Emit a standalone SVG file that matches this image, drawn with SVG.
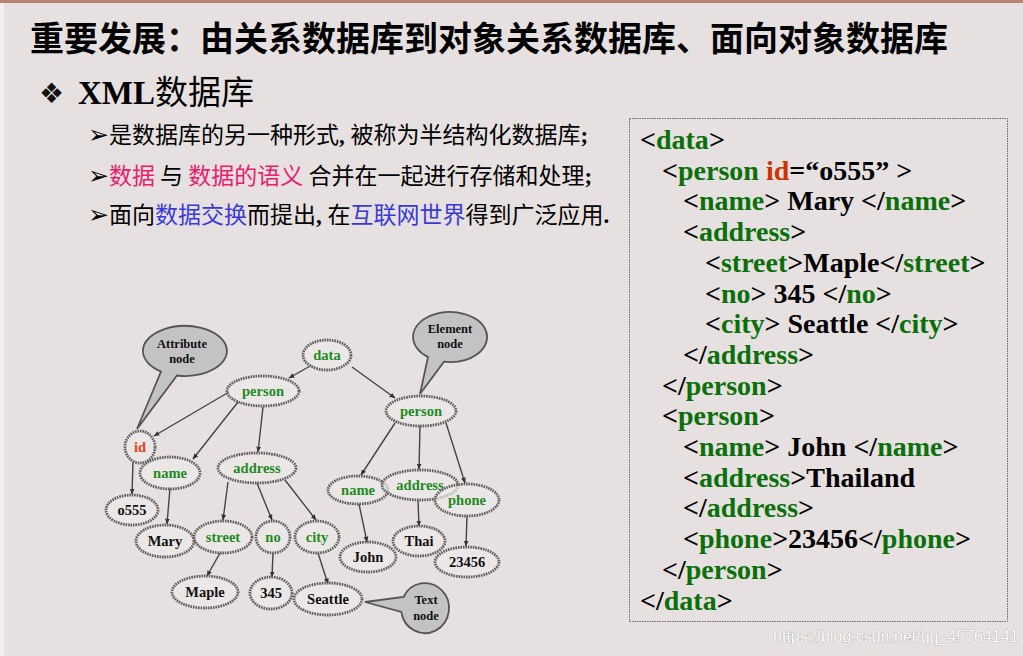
<svg xmlns="http://www.w3.org/2000/svg" width="1023" height="656" viewBox="0 0 1023 656">
<defs>
<style>
.cjk{font-family:"Noto Sans CJK SC","Noto Sans",sans-serif}
.ser{font-family:"Liberation Serif","Times New Roman",serif;font-weight:bold}
.nd ellipse{fill:#eeebeb;fill-opacity:0.65;stroke:#5e5e5e;stroke-width:2.8;stroke-dasharray:1.6 0.9}
.nd text{font-family:"Liberation Serif","Times New Roman",serif;font-weight:bold;font-size:14.5px;text-anchor:middle}
.tag{fill:#1f8a1f}
.val{fill:#111}
.attr{fill:#e8401c}
.edge line{stroke:#444;stroke-width:1.4;marker-end:url(#ah)}
.balloon path{fill:#c3c3c3;stroke:#555;stroke-width:1.8}
.balloon text{font-family:"Liberation Serif","Times New Roman",serif;font-weight:bold;font-size:12.5px;text-anchor:middle;fill:#111}
.xml text{font-family:"Liberation Serif","Times New Roman",serif;font-weight:bold;font-size:28px;fill:#000}
.g{fill:#0b700b}
.r{fill:#cc3300}
.pink{fill:#e8206e}
.blue{fill:#3a3ad8}
.arw{font-family:"DejaVu Sans",sans-serif;font-size:25px;fill:#000}
</style>
<marker id="ah" viewBox="0 0 10 10" refX="9" refY="5" markerWidth="6" markerHeight="6" orient="auto" markerUnits="userSpaceOnUse">
<path d="M0,1 L10,5 L0,9 z" fill="#333"/>
</marker>
</defs>

<!-- background -->
<rect x="0" y="0" width="1023" height="656" fill="#e7e0e0"/>
<rect x="0" y="0" width="1023" height="3" fill="#b98374"/>
<rect x="0" y="3" width="4" height="653" fill="#f3efef"/>

<!-- title -->
<g id="title">
<text x="30" y="51" class="cjk" font-size="34" font-weight="bold" fill="#000">重要发展：由关系数据库到对象关系数据库、面向对象数据库</text>
</g>

<!-- subheading -->
<g id="subheading">
<text x="39" y="103" font-family="DejaVu Sans,sans-serif" font-size="28" fill="#111">❖</text>
<text x="78" y="104" font-size="33"><tspan class="ser">XML</tspan><tspan class="cjk" font-weight="normal">数据库</tspan></text>
</g>

<!-- bullets -->
<g id="bullets" font-size="23">
<text x="88" y="143"><tspan class="arw">➢</tspan><tspan class="cjk" fill="#000">是数据库的另一种形式</tspan><tspan class="ser">, </tspan><tspan class="cjk" fill="#000">被称为半结构化数据库</tspan><tspan class="ser">;</tspan></text>
<text x="88" y="184"><tspan class="arw">➢</tspan><tspan class="cjk pink">数据</tspan><tspan class="cjk" fill="#000"> 与 </tspan><tspan class="cjk pink">数据的语义</tspan><tspan class="cjk" fill="#000"> 合并在一起进行存储和处理</tspan><tspan class="ser">;</tspan></text>
<text x="88" y="223"><tspan class="arw">➢</tspan><tspan class="cjk" fill="#000">面向</tspan><tspan class="cjk blue">数据交换</tspan><tspan class="cjk" fill="#000">而提出</tspan><tspan class="ser">, </tspan><tspan class="cjk" fill="#000">在</tspan><tspan class="cjk blue">互联网世界</tspan><tspan class="cjk" fill="#000">得到广泛应用</tspan><tspan class="ser">.</tspan></text>
</g>

<!-- connectors -->
<g id="connectors" class="edge">
<line x1="312" y1="365" x2="289" y2="378"/>
<line x1="352" y1="367" x2="395" y2="398"/>
<line x1="229" y1="392" x2="154" y2="436"/>
<line x1="238" y1="402" x2="193" y2="459"/>
<line x1="263" y1="407" x2="258" y2="452"/>
<line x1="133" y1="462" x2="132" y2="494"/>
<line x1="170" y1="488" x2="167" y2="524"/>
<line x1="228" y1="482" x2="223" y2="520"/>
<line x1="257" y1="483" x2="272" y2="520"/>
<line x1="285" y1="480" x2="316" y2="520"/>
<line x1="220" y1="553" x2="207" y2="576"/>
<line x1="273" y1="553" x2="272" y2="577"/>
<line x1="318" y1="553" x2="328" y2="584"/>
<line x1="395" y1="423" x2="361" y2="475"/>
<line x1="420" y1="425" x2="419" y2="469"/>
<line x1="446" y1="423" x2="465" y2="483"/>
<line x1="359" y1="504" x2="367" y2="542"/>
<line x1="418" y1="500" x2="419" y2="526"/>
<line x1="467" y1="516" x2="466" y2="546"/>
</g>

<!-- nodes -->
<g id="n-data" class="nd"><ellipse cx="327" cy="355" rx="24" ry="15"/><text x="327" y="360" class="tag">data</text></g>
<g id="n-person1" class="nd"><ellipse cx="263" cy="391" rx="36" ry="15"/><text x="263" y="396" class="tag">person</text></g>
<g id="n-person2" class="nd"><ellipse cx="421" cy="411" rx="35" ry="15"/><text x="421" y="416" class="tag">person</text></g>
<g id="n-id" class="nd"><ellipse cx="140" cy="447" rx="15" ry="16"/><text x="140" y="452" class="attr">id</text></g>
<g id="n-o555" class="nd"><ellipse cx="132" cy="510" rx="26" ry="15"/><text x="132" y="515" class="val">o555</text></g>
<g id="n-name1" class="nd"><ellipse cx="170" cy="473" rx="30" ry="16"/><text x="170" y="478" class="tag">name</text></g>
<g id="n-address1" class="nd"><ellipse cx="257" cy="468" rx="39" ry="15"/><text x="257" y="473" class="tag">address</text></g>
<g id="n-mary" class="nd"><ellipse cx="165" cy="541" rx="29" ry="16"/><text x="165" y="546" class="val">Mary</text></g>
<g id="n-street" class="nd"><ellipse cx="223" cy="537" rx="29" ry="16"/><text x="223" y="542" class="tag">street</text></g>
<g id="n-no" class="nd"><ellipse cx="273" cy="537" rx="17" ry="16"/><text x="273" y="542" class="tag">no</text></g>
<g id="n-city" class="nd"><ellipse cx="317" cy="537" rx="22" ry="16"/><text x="317" y="542" class="tag">city</text></g>
<g id="n-maple" class="nd"><ellipse cx="205" cy="592" rx="33" ry="16"/><text x="205" y="597" class="val">Maple</text></g>
<g id="n-345" class="nd"><ellipse cx="271" cy="593" rx="21" ry="16"/><text x="271" y="598" class="val">345</text></g>
<g id="n-seattle" class="nd"><ellipse cx="328" cy="599" rx="34" ry="16"/><text x="328" y="604" class="val">Seattle</text></g>
<g id="n-name2" class="nd"><ellipse cx="358" cy="490" rx="30" ry="14"/><text x="358" y="495" class="tag">name</text></g>
<g id="n-address2" class="nd"><ellipse cx="420" cy="485" rx="38" ry="15"/><text x="420" y="490" class="tag">address</text></g>
<g id="n-phone" class="nd"><ellipse cx="467" cy="500" rx="32" ry="16"/><text x="467" y="505" class="tag">phone</text></g>
<g id="n-john" class="nd"><ellipse cx="368" cy="557" rx="28" ry="15"/><text x="368" y="562" class="val">John</text></g>
<g id="n-thai" class="nd"><ellipse cx="419" cy="541" rx="26" ry="15"/><text x="419" y="546" class="val">Thai</text></g>
<g id="n-23456" class="nd"><ellipse cx="467" cy="562" rx="32" ry="15"/><text x="467" y="567" class="val">23456</text></g>

<!-- balloons -->
<g id="b-attribute" class="balloon">
<path d="M177,375.5 A42,25 0 1 0 161,371.5 L137,429 Z"/>
<text x="182" y="348">Attribute</text><text x="182" y="363">node</text>
</g>
<g id="b-element" class="balloon">
<path d="M444,361.7 A37,25 0 1 0 428,357.1 L420,394 Z"/>
<text x="450" y="333">Element</text><text x="450" y="348">node</text>
</g>
<g id="b-text" class="balloon">
<path d="M403.5,597 A24,25 0 1 1 401.3,612 L365,602 Z"/>
<text x="426" y="604">Text</text><text x="426" y="620">node</text>
</g>

<!-- XML box -->
<g id="xmlbox" class="xml">
<rect x="629.5" y="118.5" width="378" height="503" fill="none" stroke="#666" stroke-width="1" stroke-dasharray="1.5 1"/>
<text x="640" y="149">&lt;<tspan class="g">data</tspan>&gt;</text>
<text x="662" y="179.7">&lt;<tspan class="g">person</tspan> <tspan class="r">id</tspan>=“o555” &gt;</text>
<text x="683" y="210.4">&lt;<tspan class="g">name</tspan>&gt; Mary &lt;/<tspan class="g">name</tspan>&gt;</text>
<text x="683" y="241.1">&lt;<tspan class="g">address</tspan>&gt;</text>
<text x="705" y="271.8">&lt;<tspan class="g">street</tspan>&gt;Maple&lt;/<tspan class="g">street</tspan>&gt;</text>
<text x="705" y="302.5">&lt;<tspan class="g">no</tspan>&gt; 345 &lt;/<tspan class="g">no</tspan>&gt;</text>
<text x="705" y="333.2">&lt;<tspan class="g">city</tspan>&gt; Seattle &lt;/<tspan class="g">city</tspan>&gt;</text>
<text x="683" y="363.9">&lt;/<tspan class="g">address</tspan>&gt;</text>
<text x="662" y="394.6">&lt;/<tspan class="g">person</tspan>&gt;</text>
<text x="662" y="425.3">&lt;<tspan class="g">person</tspan>&gt;</text>
<text x="683" y="456">&lt;<tspan class="g">name</tspan>&gt; John &lt;/<tspan class="g">name</tspan>&gt;</text>
<text x="683" y="486.7">&lt;<tspan class="g">address</tspan>&gt;Thailand</text>
<text x="683" y="517.4">&lt;/<tspan class="g">address</tspan>&gt;</text>
<text x="683" y="548.1">&lt;<tspan class="g">phone</tspan>&gt;23456&lt;/<tspan class="g">phone</tspan>&gt;</text>
<text x="662" y="578.8">&lt;/<tspan class="g">person</tspan>&gt;</text>
<text x="640" y="609.5">&lt;/<tspan class="g">data</tspan>&gt;</text>
</g>

<!-- watermark -->
<g id="watermark">
<text x="773" y="642" font-family="Liberation Sans,Arial,sans-serif" font-size="16" fill="#ffffff" stroke="#9a9a9a" stroke-width="0.7" paint-order="stroke">https://blog.csdn.net/qq_45764141</text>
</g>
</svg>
